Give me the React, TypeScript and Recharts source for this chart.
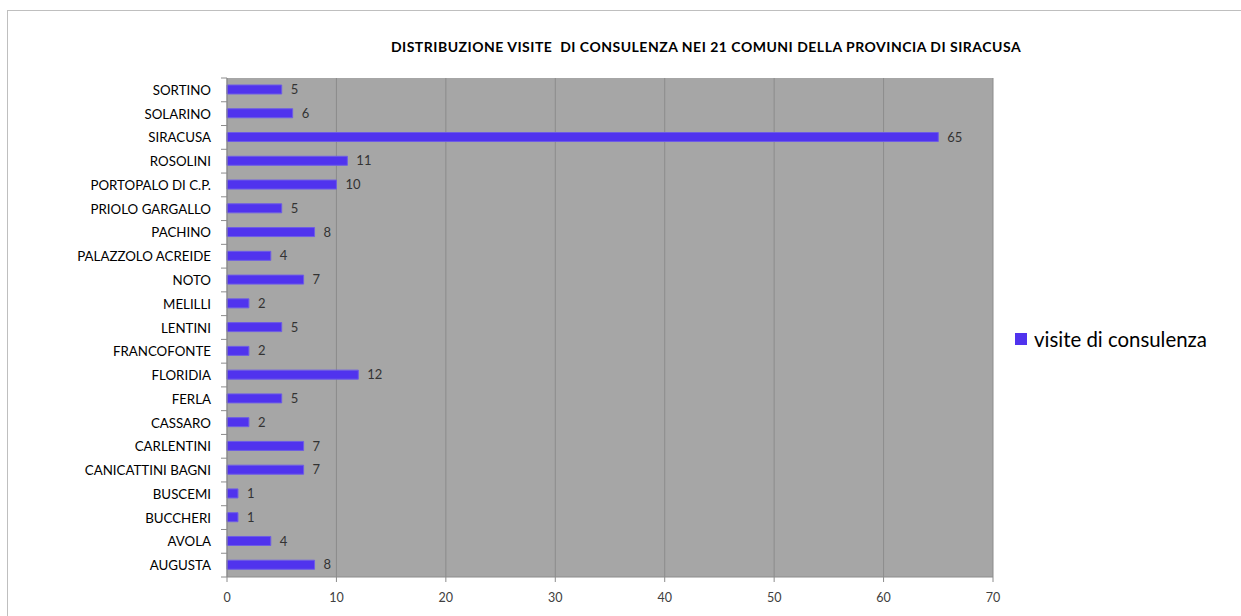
import React from 'react'
import { BarChart, Bar, XAxis, YAxis, CartesianGrid, LabelList } from 'recharts'

const comuni = [
  'SORTINO', 'SOLARINO', 'SIRACUSA', 'ROSOLINI', 'PORTOPALO DI C.P.', 'PRIOLO GARGALLO',
  'PACHINO', 'PALAZZOLO ACREIDE', 'NOTO', 'MELILLI', 'LENTINI', 'FRANCOFONTE', 'FLORIDIA',
  'FERLA', 'CASSARO', 'CARLENTINI', 'CANICATTINI BAGNI', 'BUSCEMI', 'BUCCHERI', 'AVOLA', 'AUGUSTA',
]
const visite = [5, 6, 65, 11, 10, 5, 8, 4, 7, 2, 5, 2, 12, 5, 2, 7, 7, 1, 1, 4, 8]
const xTicks = [0, 10, 20, 30, 40, 50, 60, 70]

const title = 'DISTRIBUZIONE VISITE  DI CONSULENZA NEI 21 COMUNI DELLA PROVINCIA DI SIRACUSA'
const seriesName = 'visite di consulenza'

const data = comuni.map((c, i) => ({ comune: c, visite: visite[i] }))

const FONT = 'Lato, "Open Sans", sans-serif'
const BAR = '#5033ee'
const BAND = 499 / comuni.length

// tick marks sit between categories, like the spreadsheet original
function CategoryTick(props: any) {
  const { x, y, payload, index } = props
  const last = index === comuni.length - 1
  return (
    <g>
      <line x1={x + 2} x2={x + 8} y1={y - BAND / 2} y2={y - BAND / 2} stroke="#8c8c8c" />
      {last && <line x1={x + 2} x2={x + 8} y1={y + BAND / 2} y2={y + BAND / 2} stroke="#8c8c8c" />}
      <text x={x - 8} y={y} dy={5} textAnchor="end" fontSize={13.3} fill="#000" fontFamily={FONT}>
        {payload.value}
      </text>
    </g>
  )
}

export default function App() {
  return (
    <div style={{ position: 'absolute', left: 0, top: 0, width: 1241, height: 616, background: '#fff', overflow: 'hidden' }}>
      <div style={{ position: 'absolute', left: 7, top: 10, width: 1260, height: 640, border: '1px solid #bfbfbf' }} />
      <div
        style={{
          position: 'absolute', left: 0, top: 38, width: 1412, textAlign: 'center',
          fontFamily: FONT, fontWeight: 700, fontSize: 14, letterSpacing: 0.5, color: '#000', whiteSpace: 'pre',
        }}
      >
        {title}
      </div>
      <div style={{ position: 'absolute', left: 0, top: 0 }}>
        <BarChart
          width={1241}
          height={616}
          data={data}
          layout="vertical"
          margin={{ top: 78, right: 248, left: 7, bottom: 9 }}
        >
          <CartesianGrid horizontal={false} fill="#a6a6a6" stroke="#8c8c8c" />
          <XAxis
            type="number"
            domain={[0, 70]}
            ticks={xTicks}
            height={30}
            axisLine={{ stroke: '#8c8c8c' }}
            tickLine={{ stroke: '#8c8c8c' }}
            tickSize={5}
            tickMargin={11}
            tick={{ fontSize: 12.5, fill: '#404040', fontFamily: FONT }}
          />
          <YAxis
            type="category"
            dataKey="comune"
            width={220}
            axisLine={{ stroke: '#8c8c8c' }}
            tickLine={false}
            tick={<CategoryTick />}
            interval={0}
          />
          <Bar dataKey="visite" name={seriesName} fill={BAR} stroke="#6d5ce6" strokeWidth={1} barSize={9} isAnimationActive={false}>
            <LabelList dataKey="visite" position="right" offset={9} fontSize={13} fill="#333" fontFamily={FONT} />
          </Bar>
        </BarChart>
      </div>
      <div
        style={{
          position: 'absolute', left: 1015, top: 327, display: 'flex', alignItems: 'center',
          fontFamily: FONT, fontSize: 20.4, color: '#000', whiteSpace: 'nowrap',
        }}
      >
        <span style={{ display: 'inline-block', width: 12, height: 12, background: BAR, marginRight: 7 }} />
        {seriesName}
      </div>
    </div>
  )
}
